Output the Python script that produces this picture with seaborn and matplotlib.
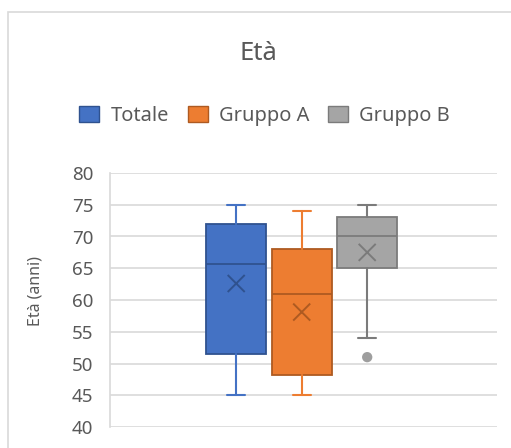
import numpy as np
import pandas as pd
import matplotlib
matplotlib.use('Agg')
import matplotlib.pyplot as plt
import seaborn as sns
from matplotlib.patches import Patch, Rectangle

# ==========================================
# DATI
# ==========================================
gruppi = ['Totale', 'Gruppo A', 'Gruppo B']
minimi = [45, 45, 54]
q1 = [51.5, 48.2, 65]
mediane = [65.6, 60.9, 70]
q3 = [72, 68.1, 73.1]
massimi = [75, 74, 75]
medie = [62.6, 58.1, 67.5]
outlier_gruppo = ['Gruppo B']
outlier_eta = [51]
y_ticks = [40, 45, 50, 55, 60, 65, 70, 75, 80]

colori = ['#4472C4', '#ED7D31', '#A5A5A5']
colori_scuri = ['#2F528F', '#AE5A21', '#7B7B7B']
testo = '#595959'
griglia = '#D9D9D9'

# ==========================================
# STILE
# ==========================================
sns.set_theme(style='white')
plt.rcParams['font.family'] = ['Noto Sans', 'DejaVu Sans']

fig = plt.figure(figsize=(5.11, 4.48), dpi=100)
ax = fig.add_axes([110 / 511, 1 - 427 / 448, 387 / 511, 254 / 448])

pos = np.arange(len(gruppi))

# statistiche per ogni box
stats = []
for i, g in enumerate(gruppi):
    stats.append({'label': g, 'whislo': minimi[i], 'q1': q1[i], 'med': mediane[i],
                  'q3': q3[i], 'whishi': massimi[i], 'mean': medie[i], 'fliers': []})

for i, s in enumerate(stats):
    ax.bxp([s], positions=[pos[i]], widths=0.92, patch_artist=True,
           showfliers=False, showmeans=False, capwidths=0.28, manage_ticks=False,
           boxprops=dict(facecolor=colori[i], edgecolor=colori_scuri[i], linewidth=1.3),
           medianprops=dict(color=colori_scuri[i], linewidth=1.3),
           whiskerprops=dict(color=colori[i] if i < 2 else colori_scuri[i], linewidth=1.5),
           capprops=dict(color=colori[i] if i < 2 else colori_scuri[i], linewidth=1.5),
           zorder=3)

# medie (X) e valori anomali
df_medie = pd.DataFrame({'pos': pos, 'media': medie, 'gruppo': gruppi})
sns.scatterplot(data=df_medie, x='pos', y='media', hue='gruppo', palette=colori_scuri,
                marker='x', s=150, linewidth=1.4, legend=False, ax=ax, zorder=4)

df_out = pd.DataFrame({'pos': [gruppi.index(g) for g in outlier_gruppo],
                       'eta': outlier_eta, 'gruppo': outlier_gruppo})
sns.scatterplot(data=df_out, x='pos', y='eta', color='#9E9E9E', s=55,
                edgecolor='none', legend=False, ax=ax, zorder=4)

# assi
ax.set_xlim(1 - 191.7 / 65.5, 1 + 195.3 / 65.5)
ax.set_ylim(40, 80)
ax.set_yticks(y_ticks)
ax.yaxis.grid(True, color=griglia, linewidth=1.2)
ax.set_axisbelow(True)
ax.set_xticks([])
ax.set_xlabel('')
ax.set_ylabel('')
ax.tick_params(axis='y', length=0, labelsize=13.5, labelcolor=testo, pad=12)
for sp in ['top', 'right', 'bottom']:
    ax.spines[sp].set_visible(False)
ax.spines['left'].set_color(griglia)
ax.spines['left'].set_linewidth(1.2)

# titolo, etichetta asse y, legenda
fig.text(258 / 511, 1 - 53 / 448, 'Età', ha='center', va='center', fontsize=18.5, color=testo)
fig.text(36 / 511, 1 - 291 / 448, 'Età (anni)', ha='center', va='center',
         rotation=90, fontsize=11.5, color=testo)

handles = [Patch(facecolor=c, edgecolor=e, linewidth=1) for c, e in zip(colori, colori_scuri)]
fig.legend(handles, gruppi, loc='center', bbox_to_anchor=(264.5 / 511, 1 - 116 / 448),
           ncol=3, frameon=False, fontsize=14.4, labelcolor=testo, handlelength=1.0,
           handleheight=0.9, handletextpad=0.55, columnspacing=0.95)

# bordo del grafico
fig.add_artist(Rectangle((7.5 / 511, -0.1), 1.2, 1.1 - 12.5 / 448, transform=fig.transFigure,
                         fill=False, edgecolor=griglia, linewidth=1.2))

fig.savefig('out.png', dpi=100)
